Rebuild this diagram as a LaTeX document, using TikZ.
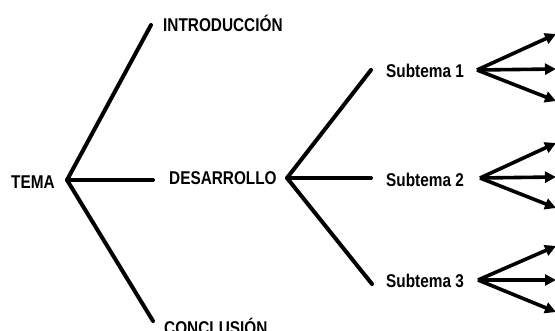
\documentclass[tikz,border=0pt]{standalone}
\usepackage{fontspec}
\setmainfont{Liberation Sans}
\newfontfamily\narrowsans[FakeStretch=0.83]{Liberation Sans}
\usetikzlibrary{arrows.meta}
\begin{document}
\begin{tikzpicture}[x=1pt,y=-1pt,
  label/.style={anchor=west,inner sep=0pt,font=\narrowsans\fontsize{18.5}{18.5}\selectfont\bfseries},
  branch/.style={line width=4pt,line cap=round,line join=round},
  leaf/.style={line width=3.6pt,-{Triangle[length=11pt,width=11pt]}}]
  \useasboundingbox (0,0) rectangle (555,331);

  % main topic and its three parts
  \node[label] (tema) at (11,182) {TEMA};
  \coordinate (root) at (67,180);
  \node[label] (intro) at (163,23) {INTRODUCCIÓN};
  \node[label] (desa) at (169,178) {DESARROLLO};
  \node[label] (concl) at (164,326) {CONCLUSIÓN};
  \coordinate (introend) at (151,25);
  \coordinate (desaend) at (153,180);
  \coordinate (conclend) at (153,321);
  \draw[branch] (introend) -- (root) -- (conclend);
  \draw[branch] (root) -- (desaend);

  % subtopics of the development
  \coordinate (dfork) at (287,178);
  \node[label] (s1) at (386,71) {Subtema 1};
  \node[label] (s2) at (386,180) {Subtema 2};
  \node[label] (s3) at (386,281) {Subtema 3};
  \coordinate (s1end) at (371,70);
  \coordinate (s2end) at (371,178);
  \coordinate (s3end) at (372,284);
  \draw[branch] (s1end) -- (dfork) -- (s3end);
  \draw[branch] (dfork) -- (s2end);

  % three arrows out of each subtopic
  \coordinate (f1) at (477,70);
  \coordinate (f2) at (480,178);
  \coordinate (f3) at (478,280);
  \foreach \f/\ya/\yb/\yc in {f1/34/69/101, f2/143/177/208, f3/246/280/312} {
    \coordinate (\f a) at (556,\ya);
    \coordinate (\f b) at (556,\yb);
    \coordinate (\f c) at (556,\yc);
    \draw[leaf] (\f) -- (\f a);
    \draw[leaf] (\f) -- (\f b);
    \draw[leaf] (\f) -- (\f c);
  }
\end{tikzpicture}
\end{document}
